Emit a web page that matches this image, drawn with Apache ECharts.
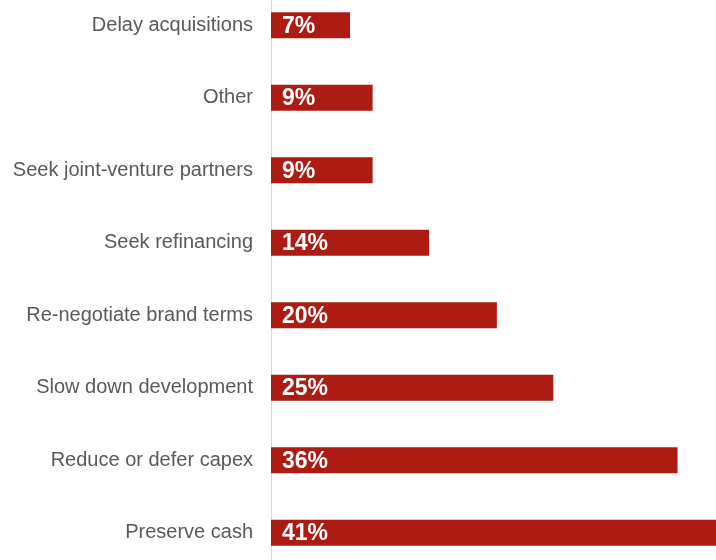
<!DOCTYPE html>
<html>
<head>
<meta charset="utf-8">
<script src="https://cdn.jsdelivr.net/npm/echarts@6/dist/echarts.min.js"></script>
<style>
  html, body { margin: 0; padding: 0; background: #ffffff; overflow: hidden; width: 716px; height: 560px; position: relative; }
  /* canvas runs a little past the frame so the longest bar is cut at the right edge */
  #chart { position: absolute; left: 0; top: -11px; width: 740px; height: 580px; }
</style>
</head>
<body>
<div id="chart"></div>
<script>
// Responses, listed bottom to top on the category axis
const categories = [
  'Preserve cash',
  'Reduce or defer capex',
  'Slow down development',
  'Re-negotiate brand terms',
  'Seek refinancing',
  'Seek joint-venture partners',
  'Other',
  'Delay acquisitions'
];
const shares = [41, 36, 25, 20, 14, 9, 9, 7];

const chart = echarts.init(document.getElementById('chart'), null, { renderer: 'canvas' });

chart.setOption({
  animation: false,
  backgroundColor: '#ffffff',
  grid: { left: 271, right: 6, top: 0, bottom: 0, containLabel: false },
  xAxis: {
    type: 'value',
    min: 0,
    max: 41,
    show: false
  },
  yAxis: {
    type: 'category',
    data: categories,
    axisLine: { show: true, lineStyle: { color: '#d9d9d9', width: 1 } },
    axisTick: { show: false },
    axisLabel: {
      margin: 18,
      color: '#595959',
      fontFamily: 'Liberation Sans, Arial, sans-serif',
      fontSize: 20
    }
  },
  series: [{
    type: 'bar',
    data: shares,
    barWidth: 26,
    itemStyle: { color: '#ad1c13' },
    label: {
      show: true,
      position: 'insideLeft',
      offset: [6, 1],
      formatter: p => p.value + '%',
      color: '#ffffff',
      fontFamily: 'Liberation Sans, Arial, sans-serif',
      fontWeight: 'bold',
      fontSize: 23
    }
  }]
});
</script>
</body>
</html>
